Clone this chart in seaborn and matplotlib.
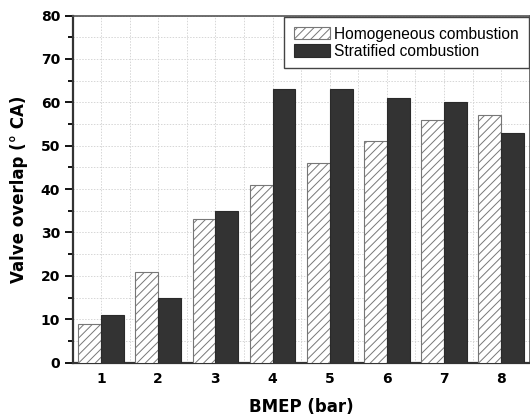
import pandas as pd
import matplotlib
matplotlib.use("Agg")
import matplotlib.pyplot as plt
from matplotlib.ticker import MultipleLocator
import seaborn as sns

# data
bmep = ["1", "2", "3", "4", "5", "6", "7", "8"]
homogeneous = [9, 21, 33, 41, 46, 51, 56, 57]
stratified = [11, 15, 35, 63, 63, 61, 60, 53]
modes = ["Homogeneous combustion", "Stratified combustion"]

df = pd.DataFrame({
    "BMEP": bmep * 2,
    "overlap": homogeneous + stratified,
    "mode": [modes[0]] * len(bmep) + [modes[1]] * len(bmep),
})

sns.set_style("white")
plt.rcParams["font.family"] = ["DejaVu Sans"]
plt.rcParams["text.color"] = "black"
plt.rcParams["axes.labelcolor"] = "black"
plt.rcParams["xtick.color"] = "black"
plt.rcParams["ytick.color"] = "black"
plt.rcParams["hatch.color"] = "#555555"
plt.rcParams["hatch.linewidth"] = 0.7

fig = plt.figure(figsize=(5.3, 4.19), dpi=100)
ax = fig.add_axes([0.1368, 0.1344, 0.8627, 0.8286])

sns.barplot(data=df, x="BMEP", y="overlap", hue="mode", hue_order=modes,
            palette=["white", "#333333"], width=0.8, saturation=1,
            ax=ax, zorder=3, legend=False)

# hatch the homogeneous bars, outline the others
for bar in ax.containers[0]:
    bar.set_hatch("////")
    bar.set_edgecolor("#777777")
    bar.set_linewidth(0.8)
for bar in ax.containers[1]:
    bar.set_edgecolor("#2a2a2a")
    bar.set_linewidth(0.8)

ax.set_xlim(-0.5, 7.5)
ax.set_ylim(0, 80)
ax.yaxis.set_major_locator(MultipleLocator(10))
ax.yaxis.set_minor_locator(MultipleLocator(5))
ax.xaxis.set_minor_locator(MultipleLocator(0.5))

ax.grid(which="both", linestyle=(0, (1.5, 1.5)), color="#d6d6d6", linewidth=0.7, zorder=0)
ax.set_axisbelow(True)

ax.tick_params(axis="y", which="major", direction="out", length=6, width=1.3, left=True,
               labelsize=10, pad=3)
ax.tick_params(axis="y", which="minor", direction="out", length=3.5, width=1.3, left=True)
ax.tick_params(axis="x", which="both", length=0, labelsize=10, pad=7)
for lbl in ax.get_xticklabels() + ax.get_yticklabels():
    lbl.set_fontweight("bold")

for side in ["left", "bottom"]:
    ax.spines[side].set_linewidth(1.6)
    ax.spines[side].set_color("#333333")
for side in ["top", "right"]:
    ax.spines[side].set_linewidth(1.2)
    ax.spines[side].set_color("#555555")

ax.set_xlabel("BMEP (bar)", fontsize=12, fontweight="bold", labelpad=8)
ax.set_ylabel("Valve overlap (° CA)", fontsize=12, fontweight="bold", labelpad=9)

leg = ax.legend(ax.containers, modes, loc="upper right", bbox_to_anchor=(0.998, 0.996),
                fancybox=False, framealpha=1, edgecolor="#444444",
                handlelength=2.3, handleheight=0.85, handletextpad=0.3,
                labelspacing=0.14, borderaxespad=0, borderpad=0.62,
                prop={"family": "Liberation Sans", "size": 11.2})
leg.get_frame().set_linewidth(1.0)

fig.savefig("out.png", dpi=100)
